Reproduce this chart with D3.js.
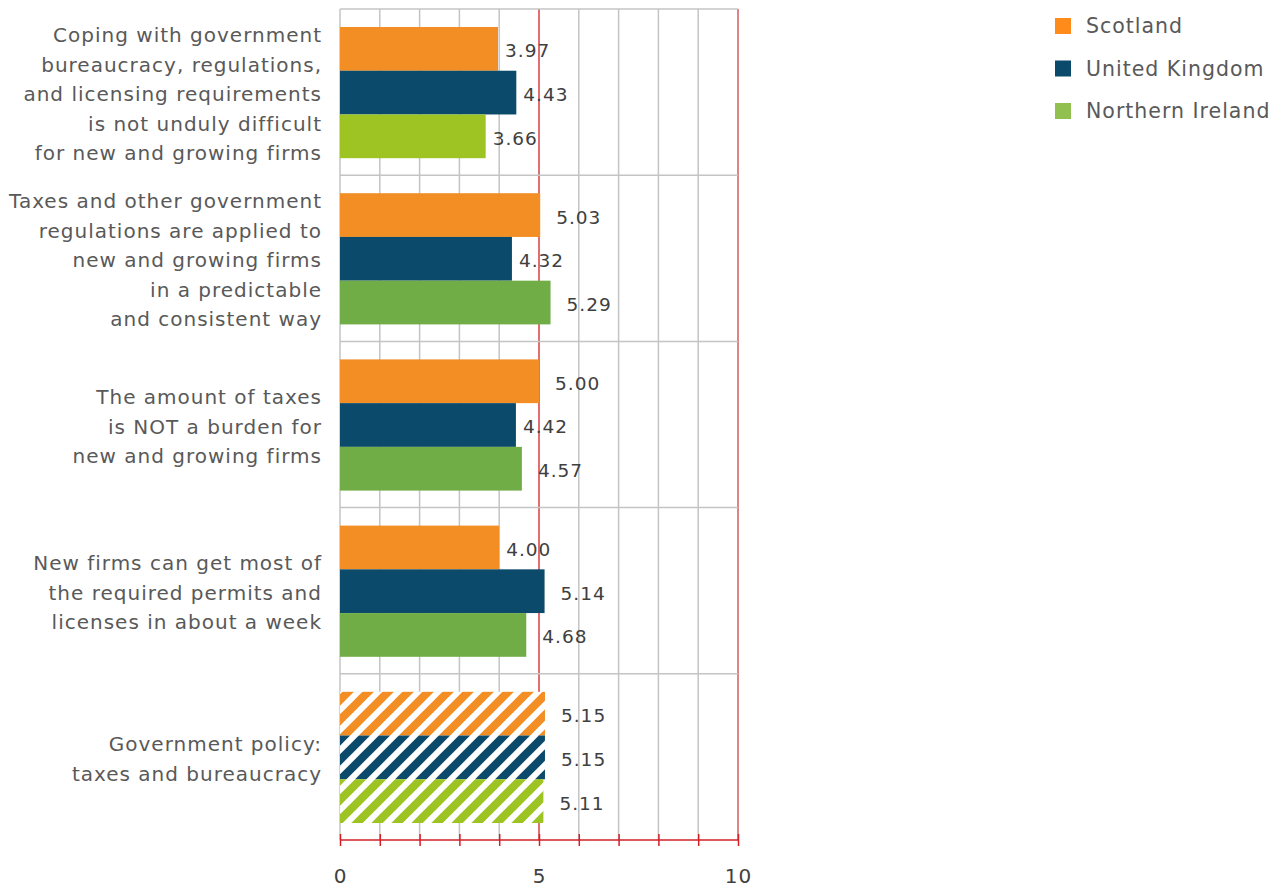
<!DOCTYPE html>
<html><head><meta charset="utf-8">
<script src="https://cdn.jsdelivr.net/npm/d3@7"></script>
<style>body{margin:0;background:#fff}svg{display:block}text{font-family:"DejaVu Sans",sans-serif;letter-spacing:1px}</style>
</head><body><svg id="c" width="1284" height="891"></svg>
<script>
const categories = [
  ["Coping with government","bureaucracy, regulations,","and licensing requirements","is not unduly difficult","for new and growing firms"],
  ["Taxes and other government","regulations are applied to","new and growing firms","in a predictable","and consistent way"],
  ["The amount of taxes","is NOT a burden for","new and growing firms"],
  ["New firms can get most of","the required permits and","licenses in about a week"],
  ["Government policy:","taxes and bureaucracy"]
];
const seriesNames = ["Scotland","United Kingdom","Northern Ireland"];
const scotland = [3.97, 5.03, 5.00, 4.00, 5.15];
const unitedKingdom = [4.43, 4.32, 4.42, 5.14, 5.15];
const northernIreland = [3.66, 5.29, 4.57, 4.68, 5.11];
const hatched = [false, false, false, false, true];
const xTicks = [0, 5, 10];

const seriesColors = ["#F28E23", "#0B4A6A", "#70AD47"];
const legendColors = ["#FF8C1A", "#0B4A6A", "#92C050"];
const niFirstColor = "#9DC423";

const svg = d3.select("#c");
const x = d3.scaleLinear().domain([0, 10]).range([340, 738]);
const y = d3.scaleBand().domain(d3.range(categories.length)).range([9, 840]);
const inner = d3.scaleBand().domain(d3.range(3)).range([18, y.bandwidth() - 17]);

const defs = svg.append("defs");
function hatch(id, color) {
  const p = defs.append("pattern").attr("id", id).attr("patternUnits", "userSpaceOnUse")
    .attr("width", 20).attr("height", 20).attr("x", 340).attr("y", 0);
  p.append("rect").attr("width", 20).attr("height", 20).attr("fill", "#fff");
  p.append("path").attr("d", "M-5,5 L5,-5 M-5,25 L25,-5 M15,25 L25,15")
    .attr("stroke", color).attr("stroke-width", 8);
}
hatch("h0", seriesColors[0]); hatch("h1", seriesColors[1]); hatch("h2", niFirstColor);

const g = svg.append("g");
g.selectAll("line.v").data(d3.range(0, 11)).join("line")
  .attr("x1", d => x(d)).attr("x2", d => x(d)).attr("y1", 9).attr("y2", 840)
  .attr("stroke", d => d === 5 ? "#D21F26" : d === 10 ? "#D65A5F" : "#C4C4C4")
  .attr("stroke-width", d => d === 5 ? 1.3 : 1.5);
g.selectAll("line.h").data(d3.range(0, categories.length)).join("line")
  .attr("x1", 340).attr("x2", 738).attr("y1", d => y(d)).attr("y2", d => y(d))
  .attr("stroke", "#C4C4C4").attr("stroke-width", 1.5);

const data = [scotland, unitedKingdom, northernIreland];
categories.forEach((c, i) => {
  data.forEach((vals, s) => {
    const v = vals[i];
    let fill;
    if (hatched[i]) fill = `url(#h${s})`;
    else if (s === 2 && i === 0) fill = niFirstColor;
    else fill = seriesColors[s];
    const by = y(i) + inner(s);
    svg.append("rect").attr("x", x(0)).attr("y", by).attr("width", x(v) - x(0)).attr("height", inner.bandwidth()).attr("fill", fill);
    svg.append("text").attr("x", x(v) + (v >= 4.5 ? 16 : 7)).attr("y", by + inner.bandwidth() / 2 + 2).attr("dy", "0.35em")
      .attr("font-size", 18.5).attr("fill", "#404040").attr("letter-spacing", 0.8).text(v.toFixed(2));
  });
  const lh = 29.5;
  const cy = y(i) + y.bandwidth() / 2 - (c.length - 1) * lh / 2 + 2;
  svg.append("text").attr("text-anchor", "end").attr("font-size", 20).attr("fill", "#595959")
    .selectAll("tspan").data(c).join("tspan").attr("x", 322).attr("y", (d, k) => cy + k * lh).attr("dy", "0.35em").text(d => d);
});

const ax = svg.append("g").attr("transform", "translate(0,840)")
  .call(d3.axisBottom(x).tickValues(d3.range(0, 11)).tickSize(6).tickFormat(d => xTicks.includes(d) ? d : ""));
ax.select(".domain").attr("stroke", "#D21F26").attr("stroke-width", 1.5).attr("d", "M340,0H738");
ax.selectAll(".tick line").attr("stroke", "#D21F26").attr("stroke-width", 1.5).attr("y1", -6).attr("y2", 6);
ax.selectAll(".tick text").attr("font-size", 20).attr("fill", "#404040").attr("y", 36).attr("dy", "0.35em")
  .attr("font-family", "DejaVu Sans").attr("letter-spacing", 0);

const lg = svg.append("g");
seriesNames.forEach((n, s) => {
  const ly = 26 + s * 42.5;
  lg.append("rect").attr("x", 1055).attr("y", ly - 8).attr("width", 16).attr("height", 16).attr("fill", legendColors[s]);
  lg.append("text").attr("x", 1086).attr("y", ly).attr("dy", "0.35em").attr("font-size", 20.5).attr("fill", "#595959").attr("letter-spacing", 1.1).text(n);
});
</script></body></html>
